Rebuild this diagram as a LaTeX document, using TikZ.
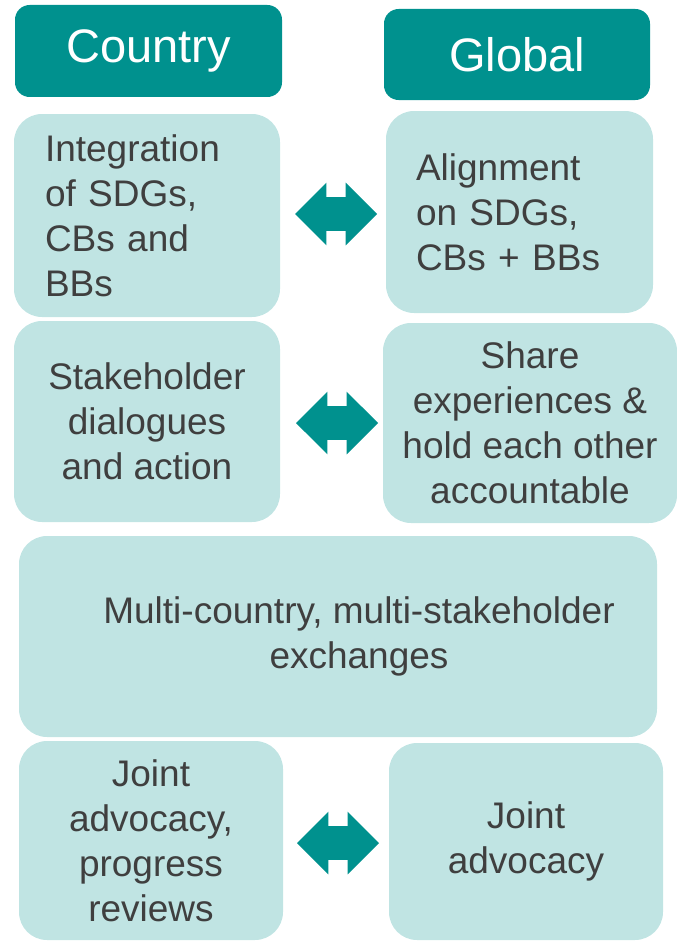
\documentclass[tikz,border=0pt]{standalone}
\usepackage{fontspec}
\setmainfont{Liberation Sans}
\usetikzlibrary{shapes.arrows}
\definecolor{tealdark}{HTML}{00918E}
\definecolor{teallight}{HTML}{C0E4E3}
\definecolor{textgray}{HTML}{3F3F3F}

\begin{document}
\begin{tikzpicture}[x=0.75pt,y=0.75pt]
\tikzstyle{every node}+=[inner sep=0pt]
\tikzstyle{hdr}=[fill=tealdark, text=white, rounded corners=11pt, font=\fontsize{35.25}{42}\selectfont]
\tikzstyle{cell}=[fill=teallight, text=textgray, rounded corners=21pt, font=\fontsize{27.75}{33.75}\selectfont]
\tikzstyle{twoway}=[shape=double arrow, fill=tealdark, minimum height=61.5pt, minimum width=46.5pt, double arrow head extend=10.875pt, inner ysep=12.375pt]
\useasboundingbox (0,0) rectangle (677,-942);
% headers
\node [hdr, minimum width=200.25pt, minimum height=69pt] (hC) at (148.5,-51) {Country};
\node [hdr, minimum width=199.5pt, minimum height=68.25pt] (hG) at (517,-54.5) {Global};
% first row
\node [cell, minimum width=199.5pt, minimum height=152.25pt, text width=153pt, align=left] (bC1) at (147,-215.5) {Integration\\of SDGs,\\CBs and\\BBs};
\node [cell, minimum width=200.25pt, minimum height=151.5pt, text width=155.25pt, align=left] (bG1) at (519.5,-212) {Alignment\\on SDGs,\\CBs + BBs};
\node [twoway] (a1) at (336,-214) {};
% second row
\node [cell, minimum width=199.5pt, minimum height=150.75pt, align=center] (bC2) at (147,-421.5) {Stakeholder\\dialogues\\and action};
\node [cell, minimum width=220.5pt, minimum height=150pt, align=center] (bG2) at (530,-423) {Share\\experiences \&\\hold each other\\accountable};
\node [twoway] (a2) at (337,-423) {};
% shared row
\node [cell, minimum width=478.5pt, minimum height=150.75pt,
  label={[text=textgray, align=center, xshift=15.75pt, font=\fontsize{27.75}{33.75}\selectfont]center:Multi-country, multi-stakeholder\\exchanges}] (mx) at (338,-636.5) {};
% last row
\node [cell, minimum width=198pt, minimum height=149.25pt, align=center] (bC3) at (151,-840.5) {Joint\\advocacy,\\progress\\reviews};
\node [cell, minimum width=205.5pt, minimum height=147.75pt, align=center] (bG3) at (526,-841.5) {Joint\\advocacy};
\node [twoway] (a3) at (338,-843) {};
\end{tikzpicture}
\end{document}
